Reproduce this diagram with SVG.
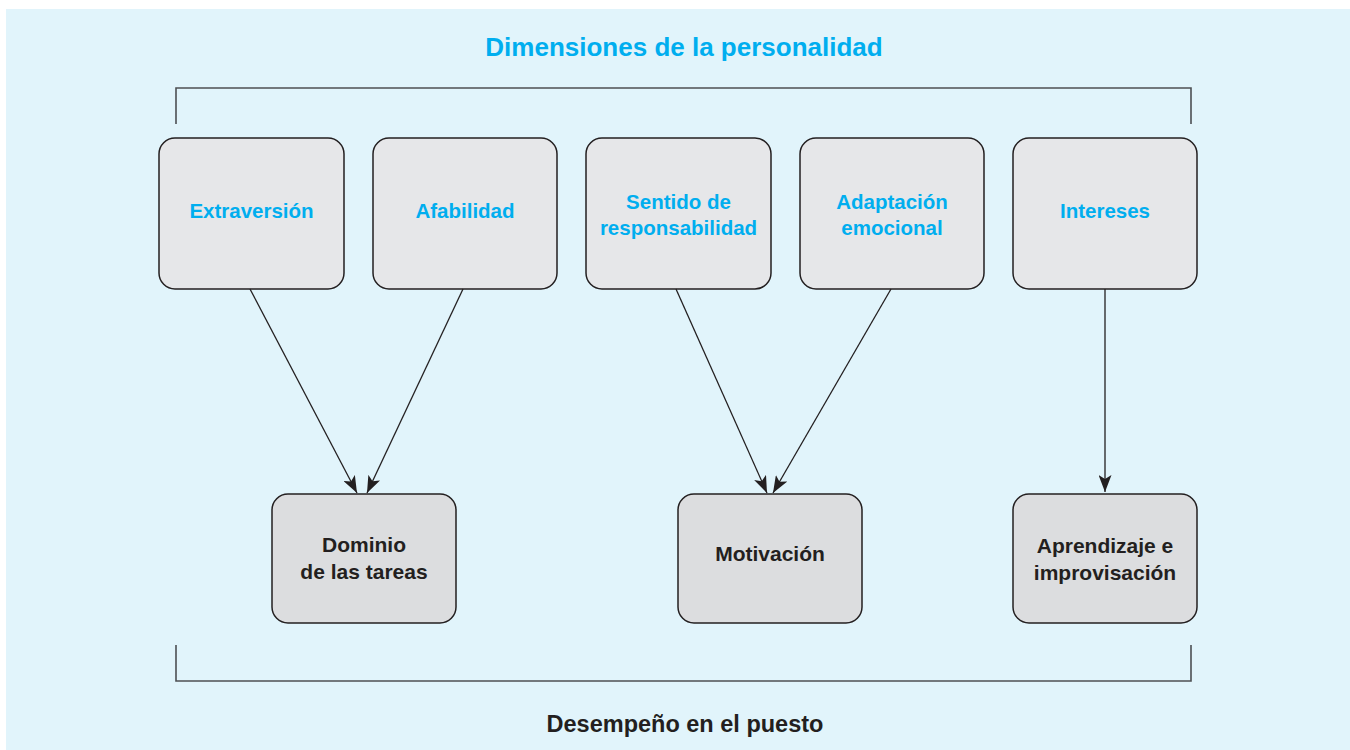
<svg xmlns="http://www.w3.org/2000/svg" width="1350" height="750" viewBox="0 0 1350 750">
<defs>
<marker id="ah" markerWidth="17" markerHeight="13" refX="17" refY="6.5" orient="auto" markerUnits="userSpaceOnUse">
<path d="M0,0 L17,6.5 L0,13 L4,6.5 Z" fill="#231f20"/>
</marker>
<style>
.top rect{fill:#e6e7e9;stroke:#231f20;stroke-width:1.5}
.bot rect{fill:#dcdddf;stroke:#231f20;stroke-width:1.5}
.bt{font-family:"Liberation Sans",Arial,sans-serif;font-weight:bold;font-size:20.5px;fill:#00aeef;text-anchor:middle}
.kt{font-family:"Liberation Sans",Arial,sans-serif;font-weight:bold;font-size:21px;fill:#231f20;text-anchor:middle}
.br{fill:none;stroke:#4d4f53;stroke-width:1.6}
.con line{stroke:#231f20;stroke-width:1.3;marker-end:url(#ah)}
</style>
</defs>
<rect x="6" y="9" width="1344" height="741" fill="#e1f4fb"/>
<text x="684" y="56" font-family="'Liberation Sans',Arial,sans-serif" font-weight="bold" font-size="26" fill="#00aeef" text-anchor="middle">Dimensiones de la personalidad</text>
<path class="br" d="M176,124 V88 H1191 V124"/>
<path class="br" d="M176,645 V681 H1191 V645"/>
<text x="685" y="732" font-family="'Liberation Sans',Arial,sans-serif" font-weight="bold" font-size="23.5" fill="#231f20" text-anchor="middle">Desempeño en el puesto</text>
<g id="extraversion" class="top"><rect x="159" y="138" width="185" height="151" rx="16"/><text class="bt" x="251.5" y="218">Extraversión</text></g>
<g id="afabilidad" class="top"><rect x="373" y="138" width="184" height="151" rx="16"/><text class="bt" x="465" y="218">Afabilidad</text></g>
<g id="responsabilidad" class="top"><rect x="586" y="138" width="185" height="151" rx="16"/><text class="bt" x="678.5" y="209">Sentido de</text><text class="bt" x="678.5" y="235">responsabilidad</text></g>
<g id="adaptacion" class="top"><rect x="800" y="138" width="184" height="151" rx="16"/><text class="bt" x="892" y="209">Adaptación</text><text class="bt" x="892" y="235">emocional</text></g>
<g id="intereses" class="top"><rect x="1013" y="138" width="184" height="151" rx="16"/><text class="bt" x="1105" y="218">Intereses</text></g>
<g id="dominio" class="bot"><rect x="272" y="494" width="184" height="129" rx="16"/><text class="kt" x="364" y="552">Dominio</text><text class="kt" x="364" y="579">de las tareas</text></g>
<g id="motivacion" class="bot"><rect x="678" y="494" width="184" height="129" rx="16"/><text class="kt" x="770" y="561">Motivación</text></g>
<g id="aprendizaje" class="bot"><rect x="1013" y="494" width="184" height="129" rx="16"/><text class="kt" x="1105" y="553">Aprendizaje e</text><text class="kt" x="1105" y="580">improvisación</text></g>
<g id="connectors" class="con">
<line x1="250" y1="289" x2="357" y2="493"/>
<line x1="463" y1="289" x2="367" y2="493"/>
<line x1="676" y1="289" x2="767" y2="493"/>
<line x1="891" y1="289" x2="773" y2="493"/>
<line x1="1105" y1="289" x2="1105" y2="492"/>
</g>
</svg>
